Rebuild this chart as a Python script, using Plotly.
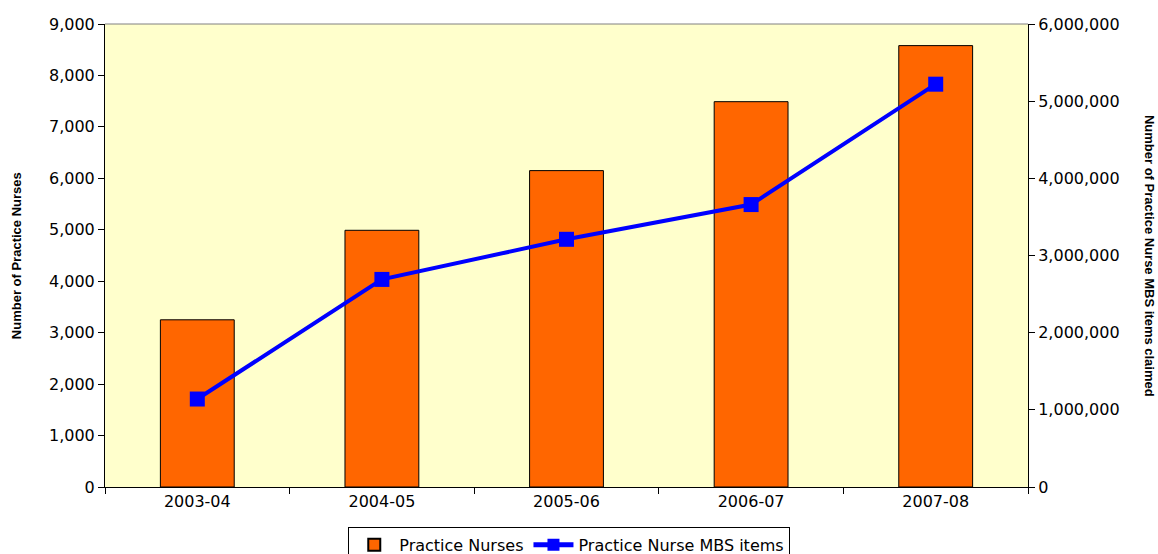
import plotly.graph_objects as go

years = ["2003-04", "2004-05", "2005-06", "2006-07", "2007-08"]
nurses = [3250, 4990, 6150, 7490, 8580]
mbs_items = [1140000, 2690000, 3210000, 3660000, 5220000]

left_ticks = list(range(0, 9001, 1000))
right_ticks = list(range(0, 6000001, 1000000))

FONT = "DejaVu Sans"

fig = go.Figure()
fig.add_trace(go.Bar(
    x=years, y=nurses, name="Practice Nurses",
    marker=dict(color="#FF6600", line=dict(color="#000000", width=1)),
    width=0.4,
))
fig.add_trace(go.Scatter(
    x=years, y=mbs_items, name="Practice Nurse MBS items", yaxis="y2",
    mode="lines+markers",
    line=dict(color="#0000FF", width=4),
    marker=dict(symbol="square", size=15, color="#0000FF"),
))

fig.update_layout(
    width=1158, height=554,
    margin=dict(l=105, r=130, t=24, b=67, autoexpand=False),
    paper_bgcolor="white",
    plot_bgcolor="#FFFFCC",
    font=dict(family=FONT, size=16, color="#000000"),
    showlegend=True,
    legend=dict(
        orientation="h", x=0.503, xanchor="center", y=-0.086, yanchor="top",
        bordercolor="#000000", borderwidth=1, bgcolor="white",
        font=dict(family=FONT, size=16, color="#000000"),
        itemsizing="constant", traceorder="normal",
        itemwidth=40, tracegroupgap=0,
    ),
    xaxis=dict(
        type="category", showgrid=False, showline=True, linecolor="#000000",
        linewidth=1, ticks="outside", ticklen=6, tickcolor="#000000",
        tickson="boundaries", tickfont=dict(size=16),
    ),
    yaxis=dict(
        range=[0, 9000], tickvals=left_ticks, tickformat=",",
        showgrid=False, showline=True, linecolor="#000000", linewidth=1,
        ticks="outside", ticklen=6, tickcolor="#000000", zeroline=False,
        tickfont=dict(size=16),
    ),
    yaxis2=dict(
        range=[0, 6000000], tickvals=right_ticks, tickformat=",",
        overlaying="y", side="right", anchor="x",
        showgrid=False, showline=True, linecolor="#000000", linewidth=1,
        ticks="outside", ticklen=6, tickcolor="#000000", zeroline=False,
        tickfont=dict(size=16),
    ),
    bargap=0.6,
)

fig.add_shape(type="line", xref="paper", yref="paper", x0=0, x1=1, y0=1, y1=1,
              line=dict(color="#808080", width=1))

fig.add_annotation(
    text="<b>Number of Practice Nurses</b>", xref="paper", yref="paper",
    x=-0.106, y=0.5, textangle=-90, showarrow=False,
    font=dict(family="Liberation Sans", size=13, color="#000000"),
)
fig.add_annotation(
    text="<b>Number of Practice Nurse MBS items claimed</b>", xref="paper", yref="paper",
    x=1.142, y=0.5, textangle=90, showarrow=False,
    font=dict(family="Liberation Sans", size=13, color="#000000"),
)

fig.write_html("out.html")
